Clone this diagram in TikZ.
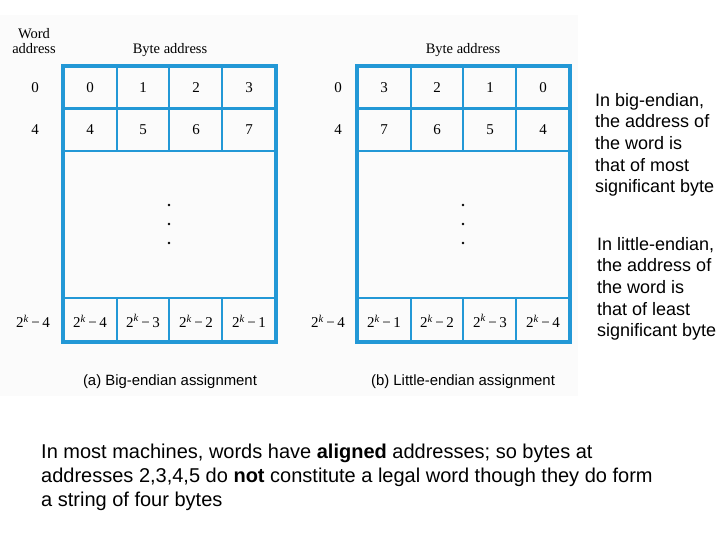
\documentclass[tikz,border=0pt]{standalone}
\usepackage{fontspec}
\setmainfont{Liberation Serif}
\setsansfont{Liberation Sans}
\definecolor{gridblue}{RGB}{35,152,214}
\definecolor{bgpanel}{RGB}{251,251,251}
\tikzset{
  outer/.style={draw=gridblue, line width=3.2pt},
  rowline/.style={draw=gridblue, line width=2.6pt},
  colline/.style={draw=gridblue, line width=1.4pt},
  num/.style={font=\fontsize{15}{17}\selectfont, inner sep=0pt},
  lbl/.style={font=\fontsize{14.5}{16}\selectfont, inner sep=0pt, align=center},
  captxt/.style={font=\sffamily\fontsize{14.9}{17}\selectfont, inner sep=0pt},
  side/.style={font=\sffamily\fontsize{18}{21.6}\selectfont, inner sep=0pt, align=left, anchor=north west},
  bottom/.style={font=\sffamily\fontsize{20}{24}\selectfont, inner sep=0pt, align=left, anchor=north west},
  dotn/.style={circle, fill=black, inner sep=0pt, minimum size=2.6pt}
}
\newcommand{\kexp}[1]{2\textsuperscript{\itshape k}\,−\,#1}
\begin{document}
\begin{tikzpicture}[x=1pt,y=-1pt]
\useasboundingbox (0,0) rectangle (720,540);
\fill[bgpanel] (0,15) rectangle (578,396);
% ---------- left grid ----------
\draw[rowline] (63,108.5) -- (276,108.5);
\draw[rowline] (63,151) -- (276,151);
\draw[rowline] (63,298) -- (276,298);
\draw[colline] (117,66) -- (117,151) (169,66) -- (169,151) (222,66) -- (222,151);
\draw[colline] (117,298) -- (117,342) (169,298) -- (169,342) (222,298) -- (222,342);
\draw[outer] (63,66) rectangle (276,342);
% ---------- right grid ----------
\draw[rowline] (357,108.5) -- (570,108.5);
\draw[rowline] (357,151) -- (570,151);
\draw[rowline] (357,298) -- (570,298);
\draw[colline] (411,66) -- (411,151) (463,66) -- (463,151) (516,66) -- (516,151);
\draw[colline] (411,298) -- (411,342) (463,298) -- (463,342) (516,298) -- (516,342);
\draw[outer] (357,66) rectangle (570,342);
% ---------- headings ----------
\node[lbl] (wa) at (34,41) {Word\\[-1pt]address};
\node[lbl] (ba1) at (170,50) {Byte address};
\node[lbl] (ba2) at (463,50) {Byte address};
% ---------- word addresses ----------
\node[num] (wl0) at (35,88) {0};
\node[num] (wl4) at (35,130) {4};
\node[num] (wlk) at (33,321) {\kexp{4}};
\node[num] (wr0) at (338,88) {0};
\node[num] (wr4) at (338,130) {4};
\node[num] (wrk) at (328,321) {\kexp{4}};
% ---------- left cells ----------
\node[num] (a0) at (90,88) {0};
\node[num] (a1) at (143,88) {1};
\node[num] (a2) at (196,88) {2};
\node[num] (a3) at (249,88) {3};
\node[num] (a4) at (90,130) {4};
\node[num] (a5) at (143,130) {5};
\node[num] (a6) at (196,130) {6};
\node[num] (a7) at (249,130) {7};
\node[num] (ak4) at (90,321) {\kexp{4}};
\node[num] (ak3) at (143,321) {\kexp{3}};
\node[num] (ak2) at (196,321) {\kexp{2}};
\node[num] (ak1) at (249,321) {\kexp{1}};
% ---------- right cells ----------
\node[num] (b3) at (384,88) {3};
\node[num] (b2) at (437,88) {2};
\node[num] (b1) at (490,88) {1};
\node[num] (b0) at (543,88) {0};
\node[num] (b7) at (384,130) {7};
\node[num] (b6) at (437,130) {6};
\node[num] (b5) at (490,130) {5};
\node[num] (b4) at (543,130) {4};
\node[num] (bk1) at (384,321) {\kexp{1}};
\node[num] (bk2) at (437,321) {\kexp{2}};
\node[num] (bk3) at (490,321) {\kexp{3}};
\node[num] (bk4) at (543,321) {\kexp{4}};
% ---------- dots ----------
\node[dotn] (dl1) at (169,205) {};
\node[dotn] (dl2) at (169,224) {};
\node[dotn] (dl3) at (169,243) {};
\node[dotn] (dr1) at (463,205) {};
\node[dotn] (dr2) at (463,224) {};
\node[dotn] (dr3) at (463,243) {};
% ---------- captions ----------
\node[captxt] (capa) at (170,382) {(a) Big-endian assignment};
\node[captxt] (capb) at (463,382) {(b) Little-endian assignment};
% ---------- side notes ----------
\node[side] (big) at (595,93) {In big-endian,\\the address of\\the word is\\that of most\\significant byte};
\node[side] (little) at (597,237) {In little-endian,\\the address of\\the word is\\that of least\\significant byte};
% ---------- bottom note ----------
\node[bottom] (note) at (41,444) {In most machines, words have \textbf{aligned} addresses; so bytes at\\addresses 2,3,4,5 do \textbf{not} constitute a legal word though they do form\\a string of four bytes};
\end{tikzpicture}
\end{document}
